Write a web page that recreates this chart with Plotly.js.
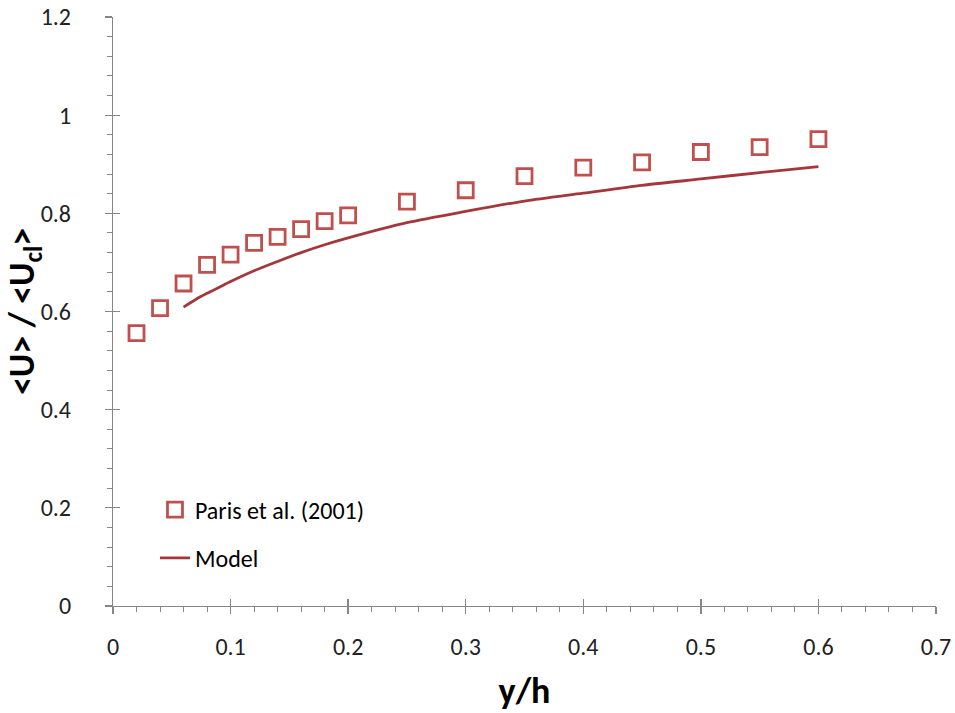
<!DOCTYPE html>
<html>
<head>
<meta charset="utf-8">
<script src="https://cdn.plot.ly/plotly-3.0.1.min.js"></script>
<style>html,body{margin:0;padding:0;background:#fff;}#chart{width:955px;height:713px;}</style>
</head>
<body>
<div id="chart"></div>
<script>
// Experimental data: Paris et al. (2001)
const parisX = [0.02, 0.04, 0.06, 0.08, 0.10, 0.12, 0.14, 0.16, 0.18, 0.20, 0.25, 0.30, 0.35, 0.40, 0.45, 0.50, 0.55, 0.60];
const parisY = [0.556, 0.607, 0.657, 0.695, 0.716, 0.740, 0.752, 0.768, 0.784, 0.796, 0.824, 0.847, 0.876, 0.893, 0.904, 0.925, 0.935, 0.951];

// Model curve
const modelX = [0.06, 0.07, 0.08, 0.09, 0.10, 0.12, 0.14, 0.16, 0.18, 0.20, 0.25, 0.30, 0.35, 0.40, 0.45, 0.50, 0.55, 0.60];
const modelY = [0.609, 0.624, 0.637, 0.649, 0.661, 0.683, 0.702, 0.720, 0.736, 0.750, 0.781, 0.804, 0.825, 0.841, 0.857, 0.870, 0.883, 0.895];

const xTickVals = [0, 0.1, 0.2, 0.3, 0.4, 0.5, 0.6, 0.7];
const xTickText = ['0', '0.1', '0.2', '0.3', '0.4', '0.5', '0.6', '0.7'];
const yTickVals = [0, 0.2, 0.4, 0.6, 0.8, 1.0, 1.2];
const yTickText = ['0', '0.2', '0.4', '0.6', '0.8', '1', '1.2'];

const FONT = 'Carlito, Calibri, Lato, sans-serif';
const axisColor = '#868686';
const PAD = '\u00a0\u00a0';

const traces = [
  {
    x: parisX, y: parisY, type: 'scatter', mode: 'markers',
    name: 'Paris et al. (2001)', legendgroup: 'a',
    marker: {symbol: 'square-open', size: 15, color: '#C0504D', line: {width: 2.8, color: '#C0504D'}}
  },
  {
    x: modelX, y: modelY, type: 'scatter', mode: 'lines',
    name: 'Model', legendgroup: 'b',
    line: {color: '#A5373A', width: 2.8, shape: 'spline', smoothing: 0.8}
  },
  // overlay axes only to draw the inner half of the crossing major ticks
  {x: [0], y: [0], xaxis: 'x2', yaxis: 'y2', mode: 'markers', marker: {opacity: 0}, showlegend: false, hoverinfo: 'skip'}
];

const layout = {
  width: 955, height: 713,
  paper_bgcolor: '#fff', plot_bgcolor: '#fff',
  margin: {l: 113, r: 19, t: 17, b: 107},
  font: {family: FONT, size: 24, color: '#000'},
  showlegend: true,
  legend: {
    x: 0.051, y: 0.201, xanchor: 'left', yanchor: 'top',
    bgcolor: 'rgba(0,0,0,0)', font: {family: FONT, size: 24, color: '#000'},
    traceorder: 'grouped', tracegroupgap: 14
  },
  xaxis: {
    range: [0, 0.7], tickvals: xTickVals, ticktext: xTickText,
    showgrid: false, zeroline: false, showline: true, linecolor: axisColor, linewidth: 1.3,
    ticks: 'outside', ticklen: 7, tickcolor: axisColor, tickwidth: 1.3,
    ticklabelstandoff: 12, tickfont: {family: FONT, size: 24, color: '#222'},
    minor: {dtick: 0.02, tick0: 0, ticks: 'outside', ticklen: 5, tickcolor: axisColor, tickwidth: 1, showgrid: false},
    title: {text: '<b>y/h</b>', font: {family: FONT, size: 36}, standoff: 22}
  },
  yaxis: {
    range: [0, 1.2], tickvals: yTickVals, ticktext: yTickText.map(t => t + PAD),
    showgrid: false, zeroline: false, showline: true, linecolor: axisColor, linewidth: 1.3,
    ticks: 'outside', ticklen: 7, tickcolor: axisColor, tickwidth: 1.3,
    ticklabelstandoff: 18, tickfont: {family: FONT, size: 24, color: '#222'},
    minor: {dtick: 0.04, tick0: 0, ticks: 'outside', ticklen: 5, tickcolor: axisColor, tickwidth: 1, showgrid: false},
    title: {text: '<b>&lt;U&gt; / &lt;U<sub>cl</sub>&gt;</b>', font: {family: FONT, size: 36}, standoff: 8}
  },
  xaxis2: {
    overlaying: 'x', anchor: 'y2', range: [0, 0.7], tickvals: xTickVals, showticklabels: false,
    showgrid: false, zeroline: false, showline: false,
    ticks: 'inside', ticklen: 7, tickcolor: axisColor, tickwidth: 1.3
  },
  yaxis2: {
    overlaying: 'y', anchor: 'x2', range: [0, 1.2], tickvals: yTickVals, showticklabels: false,
    showgrid: false, zeroline: false, showline: false,
    ticks: 'inside', ticklen: 7, tickcolor: axisColor, tickwidth: 1.3
  }
};

Plotly.newPlot('chart', traces, layout, {displayModeBar: false, staticPlot: true});
</script>
</body>
</html>
